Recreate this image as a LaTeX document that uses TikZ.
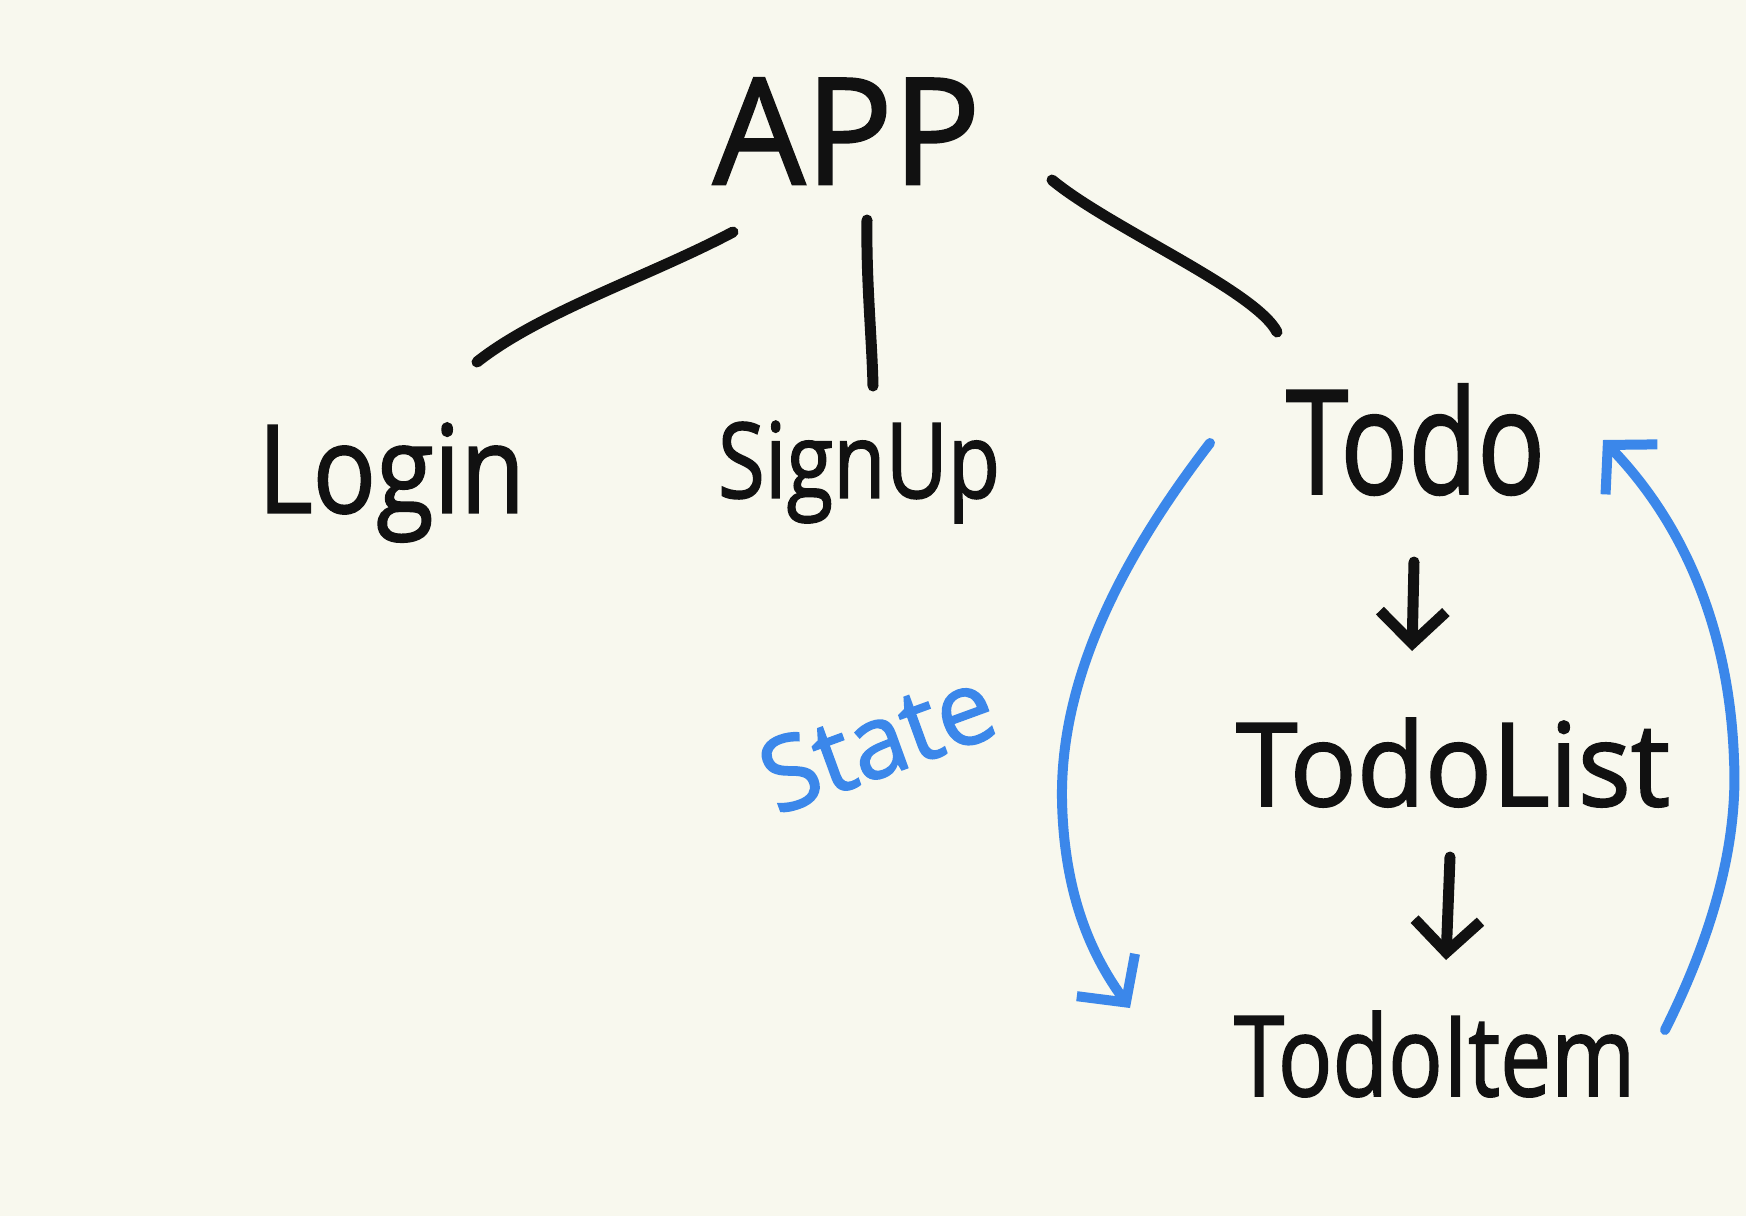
\documentclass[tikz,border=0pt]{standalone}
\usepackage{fontspec}
\usepackage{graphicx}
\setmainfont{Open Sans}[BoldFont={Open Sans}, BoldFeatures={FakeBold=1.6}]
\usetikzlibrary{arrows.meta}
\definecolor{paper}{HTML}{F8F8EE}
\definecolor{ink}{HTML}{111111}
\definecolor{penblue}{HTML}{3B87EA}
\begin{document}
\begin{tikzpicture}[x=1pt,y=-1pt,
  lbl/.style={inner sep=0pt, outer sep=0pt, text=ink, anchor=north west, font=\bfseries},
  stroke/.style={draw=ink, line width=11pt, line cap=round, line join=round},
  bstroke/.style={draw=penblue, line width=10pt, line cap=round, line join=round},
  downarrow/.style={stroke, -{Straight Barb[length=32pt,width=66pt,line width=11pt]}},
  bluearrow/.style={bstroke, -{Straight Barb[length=34pt,width=72pt,line width=10pt]}}]
\fill[paper] (0,0) rectangle (1746,1216);
\useasboundingbox (0,0) rectangle (1746,1216);
% nodes
\node[lbl] (app) at (713,78) {\resizebox*{267pt}{106pt}{APP}};
\node[lbl] (login) at (258,423) {\resizebox*{267pt}{119pt}{Login}};
\node[lbl] (signup) at (718,421) {\resizebox*{282pt}{102pt}{SignUp}};
\node[lbl] (todo) at (1286,384) {\resizebox*{259pt}{111pt}{Todo}};
\node[lbl] (todolist) at (1236,718) {\resizebox*{434pt}{89pt}{TodoList}};
\node[lbl] (todoitem) at (1234,1011) {\resizebox*{401pt}{86pt}{TodoItem}};
\node[inner sep=0pt, text=penblue, rotate=20, font=\bfseries] (state) at (877,740) {\resizebox{240pt}{74pt}{State}};
% free ends
\coordinate (appL) at (733,232);
\coordinate (loginT) at (477,362);
\coordinate (appM) at (867,220);
\coordinate (signupT) at (873,386);
\coordinate (appR) at (1052,180);
\coordinate (todoT) at (1277,332);
\coordinate (todoB) at (1414,562);
\coordinate (listT) at (1412,651);
\coordinate (listB) at (1450,857);
\coordinate (itemT) at (1446,960);
\coordinate (todoL) at (1210,443);
\coordinate (itemL) at (1130,1008);
\coordinate (itemR) at (1665,1030);
\coordinate (todoR) at (1603,440);
% connectors
\draw[stroke] (appL) .. controls (650,276) and (540,312) .. (loginT);
\draw[stroke] (appM) .. controls (866,280) and (872,340) .. (signupT);
\draw[stroke] (appR) .. controls (1110,228) and (1255,290) .. (todoT);
\draw[downarrow] (todoB) -- (listT);
\draw[downarrow] (listB) -- (itemT);
\draw[bluearrow] (todoL) .. controls (1120,560) and (1060,680) .. (1062,800)
   .. controls (1064,900) and (1095,960) .. (itemL);
\draw[bluearrow] (itemR) .. controls (1715,930) and (1738,840) .. (1734,760)
   .. controls (1730,640) and (1690,530) .. (todoR);
\end{tikzpicture}
\end{document}
